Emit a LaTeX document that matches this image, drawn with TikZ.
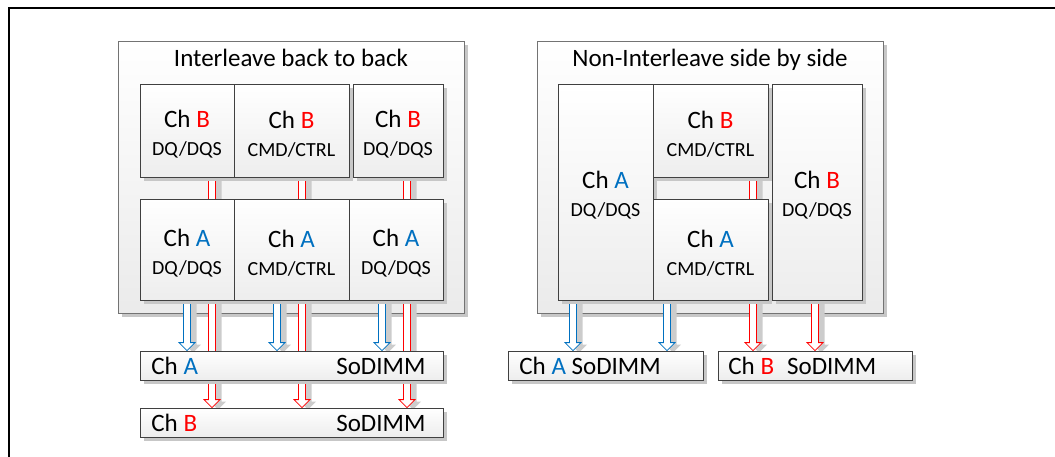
\documentclass[tikz,border=0pt]{standalone}
\usepackage{fontspec}
\setmainfont{Carlito}
\usetikzlibrary{calc,shadows}

\definecolor{chA}{HTML}{0070C0}
\definecolor{chB}{HTML}{FF0000}

\pgfdeclarelayer{panels}
\pgfdeclarelayer{wires}
\pgfsetlayers{panels,wires,main}

% first line of a unit box: "Ch X" in the larger size
\newcommand\chline[2]{{\fontsize{25}{28}\selectfont\rule{0pt}{24pt}Ch \textcolor{#1}{#2}}}
% hollow arrow from the bottom of a unit to the top of a slot, shifted sideways
\newcommand\feed[4]{\draw[hollow arrow, draw=#1] ($(#2.south)+(#3,-1)$) to ($(#2.south |- #4.north)+(#3,0)$);}

\tikzset{
  frame/.style={line width=2.2pt},
  softshadow/.style={drop shadow={shadow xshift=4pt, shadow yshift=-4pt, fill=black!22, opacity=1}},
  panel/.style={draw=black!55, line width=0.8pt, top color=white, bottom color=black!8,
    softshadow, inner sep=0pt},
  title/.style={font=\fontsize{25}{30}\selectfont, inner sep=0pt},
  unit/.style={draw=black!75, line width=0.8pt, top color=white, bottom color=black!7,
    softshadow, inner sep=0pt, align=center, font=\fontsize{20}{28}\selectfont},
  slot/.style={unit, font=\fontsize{25}{30}\selectfont, minimum height=29pt, anchor=west},
  hollow arrow/.style={line width=0.8pt, fill=white, line join=miter,
    drop shadow={shadow xshift=6pt, shadow yshift=-2pt, fill=black!20, opacity=1},
    to path={let \p1=(\tikztostart), \p2=(\tikztotarget) in
      (\x1-3.5pt,\y1) -- (\x1-3.5pt,\y2+8pt) -- (\x1-8pt,\y2+8pt) -- (\x1,\y2)
      -- (\x1+8pt,\y2+8pt) -- (\x1+3.5pt,\y2+8pt) -- (\x1+3.5pt,\y1) -- cycle}},
}

\begin{document}
\begin{tikzpicture}[x=1pt,y=-1pt]
\useasboundingbox (0,0) rectangle (1055,456);

% page frame
\draw[frame] (9,470) -- (9,7.7) -- (1070,7.7);

% ---------------- panels ----------------
\begin{pgfonlayer}{panels}
  \node[panel, minimum width=346pt, minimum height=272pt] (pL) at (291,177) {};
  \node[panel, minimum width=346pt, minimum height=272pt] (pR) at (710,177) {};
\end{pgfonlayer}
\node[title, anchor=base] (tL) at (291,66) {Interleave back to back};
\node[title, anchor=base] (tR) at (710,66) {Non-Interleave side by side};

% ---------------- interleave back to back ----------------
\node[unit, minimum width=94pt,  minimum height=93pt] (tB1) at (187,130.5) {\chline{chB}{B}\\DQ/DQS};
\node[unit, minimum width=115pt, minimum height=93pt] (tB2) at (291.5,130.5) {\chline{chB}{B}\\CMD/CTRL};
\node[unit, minimum width=90pt,  minimum height=93pt] (tB3) at (398,130.5) {\chline{chB}{B}\\DQ/DQS};

\node[unit, minimum width=94pt,  minimum height=101pt] (bA1) at (187,249.5) {\chline{chA}{A}\\DQ/DQS};
\node[unit, minimum width=115pt, minimum height=101pt] (bA2) at (291.5,249.5) {\chline{chA}{A}\\CMD/CTRL};
\node[unit, minimum width=94pt,  minimum height=101pt] (bA3) at (396,249.5) {\chline{chA}{A}\\DQ/DQS};

\node[slot] (sA) at (140,365.5) {\hbox to 303pt{\hspace{11pt}Ch \textcolor{chA}{A}\hfill SoDIMM\hspace{18pt}}};
\node[slot] (sB) at (140,422.5) {\hbox to 303pt{\hspace{11pt}Ch \textcolor{chB}{B}\hfill SoDIMM\hspace{18pt}}};

% ---------------- non-interleave side by side ----------------
\node[unit, minimum width=95pt,  minimum height=216pt] (rA)  at (605.5,192) {\chline{chA}{A}\\DQ/DQS};
\node[unit, minimum width=115pt, minimum height=93pt]  (rBc) at (710.5,130.5) {\chline{chB}{B}\\CMD/CTRL};
\node[unit, minimum width=115pt, minimum height=101pt] (rAc) at (710.5,249.5) {\chline{chA}{A}\\CMD/CTRL};
\node[unit, minimum width=90pt,  minimum height=216pt] (rB)  at (817,192) {\chline{chB}{B}\\DQ/DQS};

\node[slot] (rsA) at (508,365.5) {\hbox to 195pt{\hspace{11pt}Ch \textcolor{chA}{A} SoDIMM\hfill}};
\node[slot] (rsB) at (718,365.5) {\hbox to 194pt{\hspace{10pt}Ch \textcolor{chB}{B}\hspace{13pt}SoDIMM\hfill}};

% ---------------- data paths ----------------
\begin{pgfonlayer}{wires}
  \feed{chB}{tB1}{25}{sB}
  \feed{chB}{tB2}{10.5}{sB}
  \feed{chB}{tB3}{9}{sB}
  \feed{chA}{bA1}{0}{sA}
  \feed{chA}{bA2}{-14.5}{sA}
  \feed{chA}{bA3}{-14}{sA}

  \feed{chA}{rA}{-32.5}{rsA}
  \feed{chA}{rAc}{-43.5}{rsA}
  \feed{chB}{rBc}{42.5}{rsB}
  \feed{chB}{rB}{-2}{rsB}
\end{pgfonlayer}
\end{tikzpicture}
\end{document}
